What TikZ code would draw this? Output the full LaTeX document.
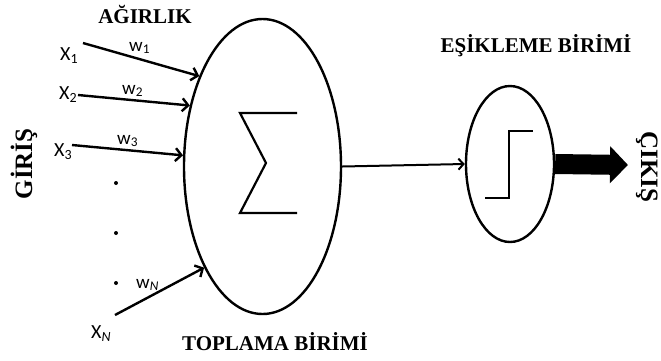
\documentclass[tikz,border=0pt]{standalone}
\usepackage{fontspec}
\setmainfont{Liberation Serif}
\newfontfamily\lblfont{Carlito}
\usetikzlibrary{arrows.meta,shapes.geometric}

\begin{document}
\begin{tikzpicture}[x=1pt,y=-1pt,
  heading/.style={font=\fontsize{21}{25}\selectfont\bfseries, inner sep=0pt, anchor=base},
  sidehead/.style={font=\fontsize{25}{30}\selectfont\bfseries, inner sep=0pt, anchor=base},
  var/.style={font=\lblfont\fontsize{20}{24}\selectfont, inner sep=0pt, anchor=base west},
  wgt/.style={font=\lblfont\fontsize{19}{23}\selectfont, inner sep=0pt, anchor=base west},
  unit/.style={draw, ellipse, line width=2.4pt, inner sep=0pt},
  inarrow/.style={line width=2.4pt, -{Straight Barb[length=6pt,width=13pt]}},
  glyph/.style={line width=2.2pt},
]
\useasboundingbox (0,0) rectangle (661,360);

% processing units
\node[unit, minimum width=157pt, minimum height=295pt] (sum) at (262.5,166.5) {};
\node[unit, minimum width=88pt, minimum height=156pt] (thr) at (510,164) {};

% summation sign
\draw[glyph] (297,113) -- (240,113) -- (266,163) -- (240,213) -- (297,213);
% step function
\draw[glyph] (485,198) -- (509,198) -- (509,131) -- (533,131);

% headings
\node[heading] (agirlik) at (145,23) {AĞIRLIK};
\node[heading] (toplama) at (275,350) {TOPLAMA BİRİMİ};
\node[heading] (esik) at (536,52) {EŞİKLEME BİRİMİ};
\node[sidehead, rotate=90] (giris) at (32,164) {GİRİŞ};
\node[sidehead, rotate=-90] (cikis) at (641,167) {ÇIKIŞ};

% inputs
\node[var] (x1) at (60,60) {X\textsubscript{1}};
\node[var] (x2) at (59,99) {X\textsubscript{2}};
\node[var] (x3) at (54,156) {X\textsubscript{3}};
\node[var] (xn) at (91,338) {X\textsubscript{\itshape N}};

% weights
\node[wgt] (w1) at (129,51) {w\textsubscript{1}};
\node[wgt] (w2) at (122,94) {w\textsubscript{2}};
\node[wgt] (w3) at (117,144) {w\textsubscript{3}};
\node[wgt] (wn) at (136,288) {w\textsubscript{\itshape N}};

% ellipsis dots
\fill (116,183) circle (2pt);
\fill (116,233) circle (2pt);
\fill (116,283) circle (2pt);

% weighted input lines
\coordinate (s1) at (83,43);
\coordinate (s2) at (78,95);
\coordinate (s3) at (72,145);
\coordinate (sn) at (115,315);
\draw[inarrow] (s1) -- (sum.125);
\draw[inarrow] (s2) -- (sum.140);
\draw[inarrow] (s3) -- (sum.172);
\draw[inarrow] (sn) -- (sum.240);

% sum to threshold
\draw[line width=2pt, -{Straight Barb[length=5pt,width=11pt]}] (sum.east) -- (thr.west);

% output arrow
\coordinate (outtip) at (628,165);
\draw[line width=20pt, -{Triangle[length=18pt,width=36pt]}] (thr.east) -- (outtip);
\end{tikzpicture}
\end{document}
